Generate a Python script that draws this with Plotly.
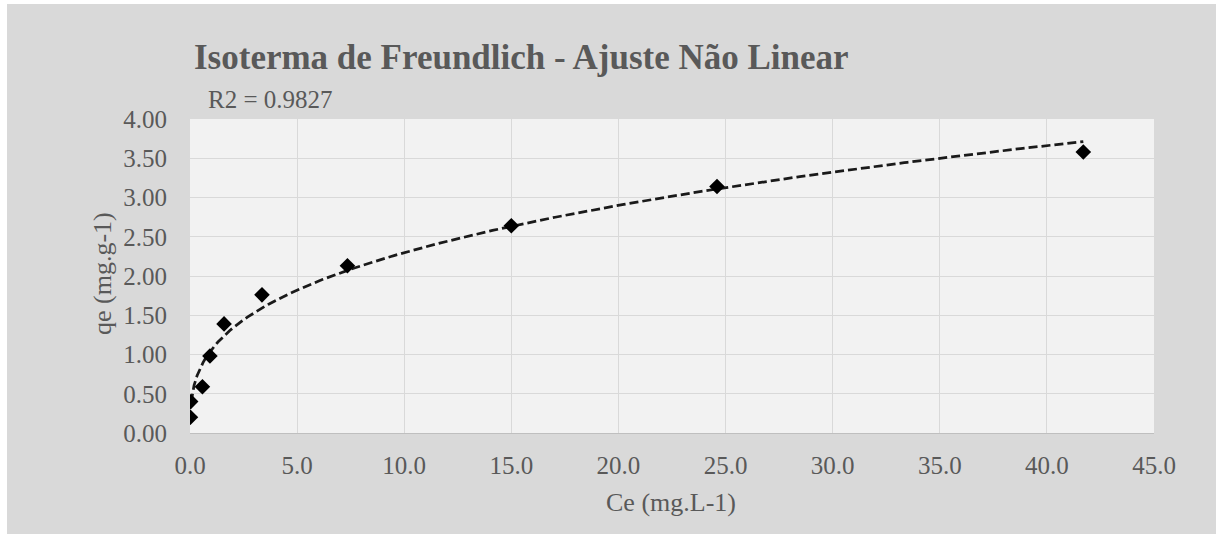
import numpy as np
import plotly.graph_objects as go

# Equilibrium data: Ce (mg/L) and qe (mg/g)
ce = [0.02, 0.03, 0.58, 0.93, 1.59, 3.36, 7.35, 15.0, 24.6, 41.7]
qe = [0.20, 0.40, 0.59, 0.98, 1.39, 1.76, 2.13, 2.64, 3.14, 3.58]

# Freundlich parameters from the non-linear fit: qe = Kf * Ce^(1/n)
kf = 1.06
inv_n = 0.336
r2_text = "R2 = 0.9827"

x_ticks = [0, 5, 10, 15, 20, 25, 30, 35, 40, 45]
y_ticks = [0, 0.5, 1.0, 1.5, 2.0, 2.5, 3.0, 3.5, 4.0]

W, H = 1216, 534
L, R, T, B = 190, 62, 119, 101
pw, ph = W - L - R, H - T - B

ce_fit = np.linspace(0.05, max(ce), 300)
qe_fit = kf * ce_fit ** inv_n

FONT = "Liberation Serif"
GREY = "#595959"


def px_x(x):
    return (x - L) / pw


def px_y(y):
    return 1 + (T - y) / ph


fig = go.Figure()
fig.add_trace(go.Scatter(
    x=ce_fit, y=qe_fit, mode="lines",
    line=dict(color="#1a1a1a", width=2.75, dash="9px,4px"),
    hoverinfo="skip", showlegend=False,
))
fig.add_trace(go.Scatter(
    x=ce, y=qe, mode="markers",
    marker=dict(symbol="diamond", size=12, color="black"),
    showlegend=False,
))

# white strips left and top of the grey chart frame
fig.add_shape(type="rect", xref="paper", yref="paper", layer="below",
              x0=px_x(0), x1=px_x(7), y0=px_y(H), y1=px_y(0),
              fillcolor="white", line_width=0)
fig.add_shape(type="rect", xref="paper", yref="paper", layer="below",
              x0=px_x(0), x1=px_x(W), y0=px_y(4), y1=px_y(0),
              fillcolor="white", line_width=0)

fig.add_annotation(text="<b>Isoterma de Freundlich - Ajuste Não Linear</b>",
                   xref="paper", yref="paper", x=px_x(192), y=px_y(58),
                   xanchor="left", yanchor="middle", showarrow=False,
                   font=dict(family=FONT, size=35, color=GREY))
fig.add_annotation(text=r2_text,
                   xref="paper", yref="paper", x=px_x(206), y=px_y(100),
                   xanchor="left", yanchor="middle", showarrow=False,
                   font=dict(family=FONT, size=25, color=GREY))
fig.add_annotation(text="Ce (mg.L-1)",
                   xref="paper", yref="paper", x=px_x(671), y=px_y(502),
                   xanchor="center", yanchor="middle", showarrow=False,
                   font=dict(family=FONT, size=26, color=GREY))
fig.add_annotation(text="qe (mg.g-1)", textangle=-90,
                   xref="paper", yref="paper", x=px_x(102), y=px_y(274),
                   xanchor="center", yanchor="middle", showarrow=False,
                   font=dict(family=FONT, size=26, color=GREY))

fig.update_layout(
    width=W, height=H,
    margin=dict(l=L, r=R, t=T, b=B),
    paper_bgcolor="#d9d9d9",
    plot_bgcolor="#f2f2f2",
    font=dict(family=FONT, size=25, color=GREY),
    xaxis=dict(
        range=[0, 45], tickvals=x_ticks,
        ticktext=[f"{v:.1f}" for v in x_ticks],
        showgrid=True, gridcolor="#d9d9d9", gridwidth=1,
        zeroline=False, showline=True, linecolor="#bfbfbf", linewidth=1,
        ticks="", ticklabelstandoff=10,
    ),
    yaxis=dict(
        range=[0, 4], tickvals=y_ticks,
        ticktext=[f"{v:.2f}" for v in y_ticks],
        showgrid=True, gridcolor="#d9d9d9", gridwidth=1,
        zeroline=False, showline=False,
        ticks="", ticklabelstandoff=22,
    ),
)

fig.write_html("out.html")
